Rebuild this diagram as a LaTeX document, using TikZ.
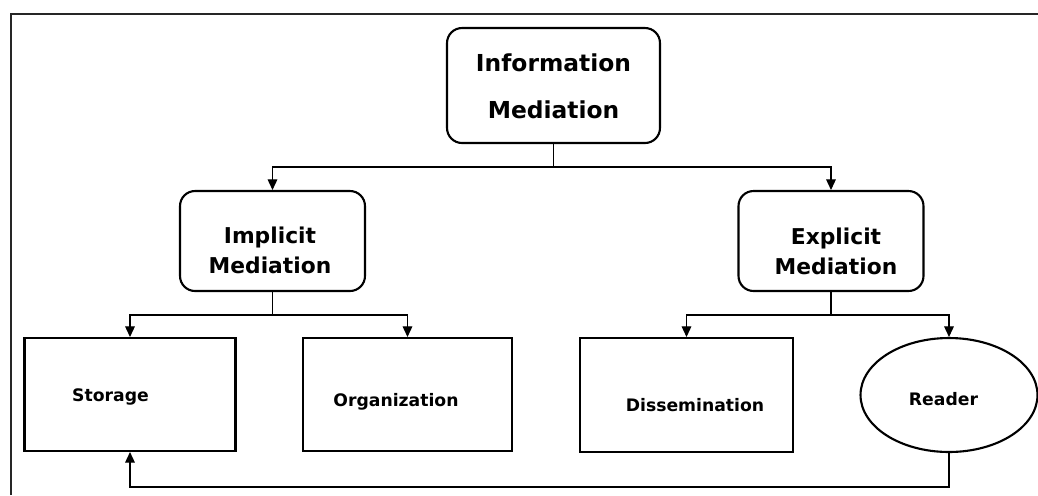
\documentclass[tikz,border=0pt]{standalone}
\usepackage{fontspec}
\newfontfamily\diagfont{DejaVu Sans}
\usetikzlibrary{shapes.geometric,arrows.meta,positioning}
\tikzset{
  topbox/.style={draw,line width=1.2pt,rounded corners=0.3cm,minimum width=4.26cm,minimum height=2.3cm},
  midbox/.style={draw,line width=1.2pt,rounded corners=0.3cm,minimum width=3.7cm,minimum height=2.0cm},
  leafbox/.style={draw,line width=1.2pt,minimum width=4.22cm,minimum height=2.26cm},
  leafoval/.style={draw,line width=1.2pt,ellipse,minimum width=3.54cm,minimum height=2.28cm},
  toptxt/.style={align=center,font={\diagfont\bfseries\fontsize{13.3}{27}\selectfont}},
  midtxt/.style={align=center,font={\diagfont\bfseries\fontsize{12.4}{17}\selectfont}},
  leaftxt/.style={font={\diagfont\bfseries\fontsize{9.8}{12}\selectfont}},
  link/.style={line width=0.6pt},
  arr/.style={line width=0.6pt,-{Triangle[length=6pt,width=5.5pt]}}
}
\begin{document}
\begin{tikzpicture}[x=0.02cm,y=-0.02cm]
%
\useasboundingbox (0,0) rectangle (1038,495);
%
\draw[line width=0.9pt,black!85] (11,495) -- (11,14) -- (1038,14);
%
\node[topbox] (info) at (553.5,85.5) {};
\node[toptxt] (info-t) at (553.5,86) {Information\\Mediation};
\node[midbox] (impl) at (272.5,241) {};
\node[midtxt] (impl-t) at (270,250) {Implicit\\Mediation};
\node[midbox] (expl) at (831,241) {};
\node[midtxt] (expl-t) at (836,251) {Explicit\\Mediation};
%
\node[leafbox] (stor) at (130,394.5) {};
\node[leaftxt] (stor-t) at (110.5,397) {Storage};
\node[leafbox,minimum width=4.18cm] (org) at (407.5,394.5) {};
\node[leaftxt] (org-t) at (396,402) {Organization};
\node[leafbox,minimum width=4.26cm,minimum height=2.28cm] (diss) at (686.5,395) {};
\node[leaftxt] (diss-t) at (695,405) {Dissemination};
\node[leafoval] (reader) at (949,395) {};
\node[leaftxt] (reader-t) at (943.5,399) {Reader};
%
\coordinate (j0) at (553.5,167);
\coordinate (j1) at (272.5,315);
\coordinate (j2) at (831,315);
\coordinate (back) at (949,487);
%
\draw[link] (info.south) -- (j0);
\draw[arr] (j0) -| (impl.north);
\draw[arr] (j0) -| (expl.north);
\draw[link] (impl.south) -- (j1);
\draw[arr] (j1) -| (stor.north);
\draw[arr] (j1) -| (org.north);
\draw[link] (expl.south) -- (j2);
\draw[arr] (j2) -| (diss.north);
\draw[arr] (j2) -| (reader.north);
\draw[arr] (reader.south) -- (back) -| (stor.south);
%
\end{tikzpicture}
\end{document}
